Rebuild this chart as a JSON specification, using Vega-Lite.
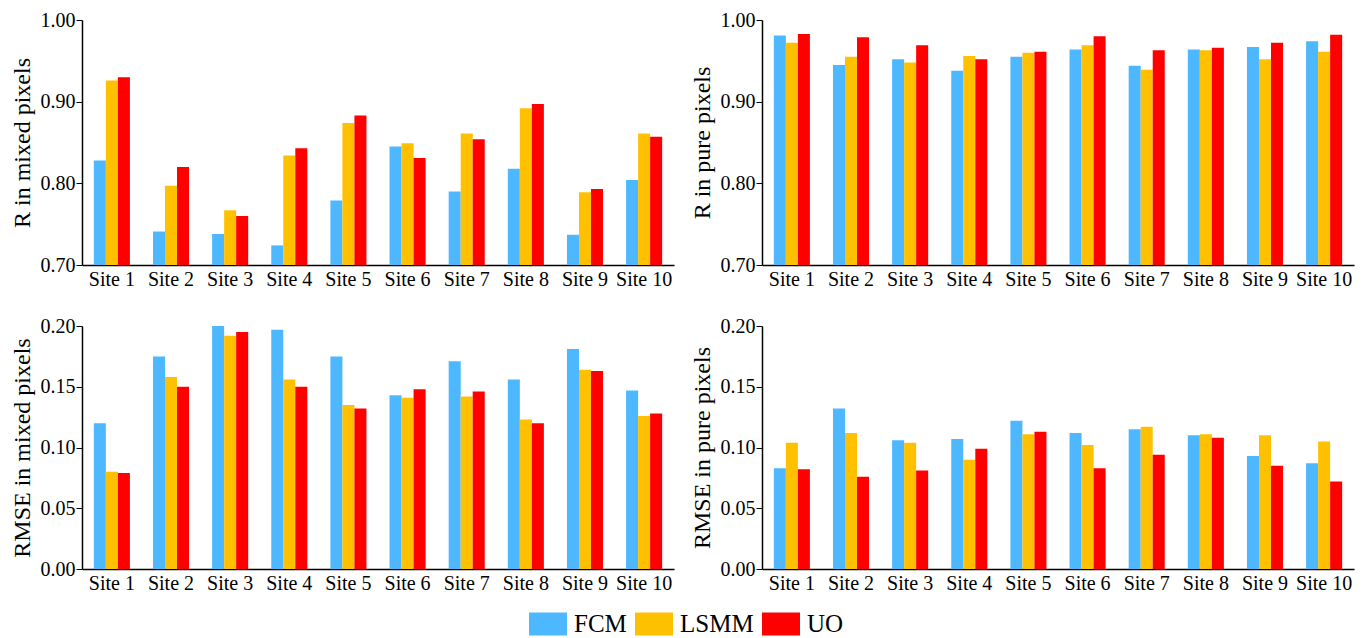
{
  "$schema": "https://vega.github.io/schema/vega-lite/v6.json",
  "padding": {"left": 10, "top": 10, "right": 10, "bottom": 2},
  "datasets": {
    "vals": [
      {"metric": "R_mixed", "site": "Site 1", "method": "FCM", "value": 0.828},
      {"metric": "R_mixed", "site": "Site 1", "method": "LSMM", "value": 0.926},
      {"metric": "R_mixed", "site": "Site 1", "method": "UO", "value": 0.930},
      {"metric": "R_mixed", "site": "Site 2", "method": "FCM", "value": 0.741},
      {"metric": "R_mixed", "site": "Site 2", "method": "LSMM", "value": 0.797},
      {"metric": "R_mixed", "site": "Site 2", "method": "UO", "value": 0.820},
      {"metric": "R_mixed", "site": "Site 3", "method": "FCM", "value": 0.738},
      {"metric": "R_mixed", "site": "Site 3", "method": "LSMM", "value": 0.767},
      {"metric": "R_mixed", "site": "Site 3", "method": "UO", "value": 0.760},
      {"metric": "R_mixed", "site": "Site 4", "method": "FCM", "value": 0.724},
      {"metric": "R_mixed", "site": "Site 4", "method": "LSMM", "value": 0.834},
      {"metric": "R_mixed", "site": "Site 4", "method": "UO", "value": 0.843},
      {"metric": "R_mixed", "site": "Site 5", "method": "FCM", "value": 0.779},
      {"metric": "R_mixed", "site": "Site 5", "method": "LSMM", "value": 0.874},
      {"metric": "R_mixed", "site": "Site 5", "method": "UO", "value": 0.883},
      {"metric": "R_mixed", "site": "Site 6", "method": "FCM", "value": 0.845},
      {"metric": "R_mixed", "site": "Site 6", "method": "LSMM", "value": 0.849},
      {"metric": "R_mixed", "site": "Site 6", "method": "UO", "value": 0.831},
      {"metric": "R_mixed", "site": "Site 7", "method": "FCM", "value": 0.790},
      {"metric": "R_mixed", "site": "Site 7", "method": "LSMM", "value": 0.861},
      {"metric": "R_mixed", "site": "Site 7", "method": "UO", "value": 0.854},
      {"metric": "R_mixed", "site": "Site 8", "method": "FCM", "value": 0.818},
      {"metric": "R_mixed", "site": "Site 8", "method": "LSMM", "value": 0.892},
      {"metric": "R_mixed", "site": "Site 8", "method": "UO", "value": 0.897},
      {"metric": "R_mixed", "site": "Site 9", "method": "FCM", "value": 0.737},
      {"metric": "R_mixed", "site": "Site 9", "method": "LSMM", "value": 0.789},
      {"metric": "R_mixed", "site": "Site 9", "method": "UO", "value": 0.793},
      {"metric": "R_mixed", "site": "Site 10", "method": "FCM", "value": 0.804},
      {"metric": "R_mixed", "site": "Site 10", "method": "LSMM", "value": 0.861},
      {"metric": "R_mixed", "site": "Site 10", "method": "UO", "value": 0.857},

      {"metric": "R_pure", "site": "Site 1", "method": "FCM", "value": 0.981},
      {"metric": "R_pure", "site": "Site 1", "method": "LSMM", "value": 0.972},
      {"metric": "R_pure", "site": "Site 1", "method": "UO", "value": 0.983},
      {"metric": "R_pure", "site": "Site 2", "method": "FCM", "value": 0.945},
      {"metric": "R_pure", "site": "Site 2", "method": "LSMM", "value": 0.955},
      {"metric": "R_pure", "site": "Site 2", "method": "UO", "value": 0.979},
      {"metric": "R_pure", "site": "Site 3", "method": "FCM", "value": 0.952},
      {"metric": "R_pure", "site": "Site 3", "method": "LSMM", "value": 0.948},
      {"metric": "R_pure", "site": "Site 3", "method": "UO", "value": 0.969},
      {"metric": "R_pure", "site": "Site 4", "method": "FCM", "value": 0.938},
      {"metric": "R_pure", "site": "Site 4", "method": "LSMM", "value": 0.956},
      {"metric": "R_pure", "site": "Site 4", "method": "UO", "value": 0.952},
      {"metric": "R_pure", "site": "Site 5", "method": "FCM", "value": 0.955},
      {"metric": "R_pure", "site": "Site 5", "method": "LSMM", "value": 0.960},
      {"metric": "R_pure", "site": "Site 5", "method": "UO", "value": 0.961},
      {"metric": "R_pure", "site": "Site 6", "method": "FCM", "value": 0.964},
      {"metric": "R_pure", "site": "Site 6", "method": "LSMM", "value": 0.969},
      {"metric": "R_pure", "site": "Site 6", "method": "UO", "value": 0.980},
      {"metric": "R_pure", "site": "Site 7", "method": "FCM", "value": 0.944},
      {"metric": "R_pure", "site": "Site 7", "method": "LSMM", "value": 0.939},
      {"metric": "R_pure", "site": "Site 7", "method": "UO", "value": 0.963},
      {"metric": "R_pure", "site": "Site 8", "method": "FCM", "value": 0.964},
      {"metric": "R_pure", "site": "Site 8", "method": "LSMM", "value": 0.963},
      {"metric": "R_pure", "site": "Site 8", "method": "UO", "value": 0.966},
      {"metric": "R_pure", "site": "Site 9", "method": "FCM", "value": 0.967},
      {"metric": "R_pure", "site": "Site 9", "method": "LSMM", "value": 0.952},
      {"metric": "R_pure", "site": "Site 9", "method": "UO", "value": 0.972},
      {"metric": "R_pure", "site": "Site 10", "method": "FCM", "value": 0.974},
      {"metric": "R_pure", "site": "Site 10", "method": "LSMM", "value": 0.961},
      {"metric": "R_pure", "site": "Site 10", "method": "UO", "value": 0.982},

      {"metric": "RMSE_mixed", "site": "Site 1", "method": "FCM", "value": 0.120},
      {"metric": "RMSE_mixed", "site": "Site 1", "method": "LSMM", "value": 0.080},
      {"metric": "RMSE_mixed", "site": "Site 1", "method": "UO", "value": 0.079},
      {"metric": "RMSE_mixed", "site": "Site 2", "method": "FCM", "value": 0.175},
      {"metric": "RMSE_mixed", "site": "Site 2", "method": "LSMM", "value": 0.158},
      {"metric": "RMSE_mixed", "site": "Site 2", "method": "UO", "value": 0.150},
      {"metric": "RMSE_mixed", "site": "Site 3", "method": "FCM", "value": 0.200},
      {"metric": "RMSE_mixed", "site": "Site 3", "method": "LSMM", "value": 0.192},
      {"metric": "RMSE_mixed", "site": "Site 3", "method": "UO", "value": 0.195},
      {"metric": "RMSE_mixed", "site": "Site 4", "method": "FCM", "value": 0.197},
      {"metric": "RMSE_mixed", "site": "Site 4", "method": "LSMM", "value": 0.156},
      {"metric": "RMSE_mixed", "site": "Site 4", "method": "UO", "value": 0.150},
      {"metric": "RMSE_mixed", "site": "Site 5", "method": "FCM", "value": 0.175},
      {"metric": "RMSE_mixed", "site": "Site 5", "method": "LSMM", "value": 0.135},
      {"metric": "RMSE_mixed", "site": "Site 5", "method": "UO", "value": 0.132},
      {"metric": "RMSE_mixed", "site": "Site 6", "method": "FCM", "value": 0.143},
      {"metric": "RMSE_mixed", "site": "Site 6", "method": "LSMM", "value": 0.141},
      {"metric": "RMSE_mixed", "site": "Site 6", "method": "UO", "value": 0.148},
      {"metric": "RMSE_mixed", "site": "Site 7", "method": "FCM", "value": 0.171},
      {"metric": "RMSE_mixed", "site": "Site 7", "method": "LSMM", "value": 0.142},
      {"metric": "RMSE_mixed", "site": "Site 7", "method": "UO", "value": 0.146},
      {"metric": "RMSE_mixed", "site": "Site 8", "method": "FCM", "value": 0.156},
      {"metric": "RMSE_mixed", "site": "Site 8", "method": "LSMM", "value": 0.123},
      {"metric": "RMSE_mixed", "site": "Site 8", "method": "UO", "value": 0.120},
      {"metric": "RMSE_mixed", "site": "Site 9", "method": "FCM", "value": 0.181},
      {"metric": "RMSE_mixed", "site": "Site 9", "method": "LSMM", "value": 0.164},
      {"metric": "RMSE_mixed", "site": "Site 9", "method": "UO", "value": 0.163},
      {"metric": "RMSE_mixed", "site": "Site 10", "method": "FCM", "value": 0.147},
      {"metric": "RMSE_mixed", "site": "Site 10", "method": "LSMM", "value": 0.126},
      {"metric": "RMSE_mixed", "site": "Site 10", "method": "UO", "value": 0.128},

      {"metric": "RMSE_pure", "site": "Site 1", "method": "FCM", "value": 0.083},
      {"metric": "RMSE_pure", "site": "Site 1", "method": "LSMM", "value": 0.104},
      {"metric": "RMSE_pure", "site": "Site 1", "method": "UO", "value": 0.082},
      {"metric": "RMSE_pure", "site": "Site 2", "method": "FCM", "value": 0.132},
      {"metric": "RMSE_pure", "site": "Site 2", "method": "LSMM", "value": 0.112},
      {"metric": "RMSE_pure", "site": "Site 2", "method": "UO", "value": 0.076},
      {"metric": "RMSE_pure", "site": "Site 3", "method": "FCM", "value": 0.106},
      {"metric": "RMSE_pure", "site": "Site 3", "method": "LSMM", "value": 0.104},
      {"metric": "RMSE_pure", "site": "Site 3", "method": "UO", "value": 0.081},
      {"metric": "RMSE_pure", "site": "Site 4", "method": "FCM", "value": 0.107},
      {"metric": "RMSE_pure", "site": "Site 4", "method": "LSMM", "value": 0.090},
      {"metric": "RMSE_pure", "site": "Site 4", "method": "UO", "value": 0.099},
      {"metric": "RMSE_pure", "site": "Site 5", "method": "FCM", "value": 0.122},
      {"metric": "RMSE_pure", "site": "Site 5", "method": "LSMM", "value": 0.111},
      {"metric": "RMSE_pure", "site": "Site 5", "method": "UO", "value": 0.113},
      {"metric": "RMSE_pure", "site": "Site 6", "method": "FCM", "value": 0.112},
      {"metric": "RMSE_pure", "site": "Site 6", "method": "LSMM", "value": 0.102},
      {"metric": "RMSE_pure", "site": "Site 6", "method": "UO", "value": 0.083},
      {"metric": "RMSE_pure", "site": "Site 7", "method": "FCM", "value": 0.115},
      {"metric": "RMSE_pure", "site": "Site 7", "method": "LSMM", "value": 0.117},
      {"metric": "RMSE_pure", "site": "Site 7", "method": "UO", "value": 0.094},
      {"metric": "RMSE_pure", "site": "Site 8", "method": "FCM", "value": 0.110},
      {"metric": "RMSE_pure", "site": "Site 8", "method": "LSMM", "value": 0.111},
      {"metric": "RMSE_pure", "site": "Site 8", "method": "UO", "value": 0.108},
      {"metric": "RMSE_pure", "site": "Site 9", "method": "FCM", "value": 0.093},
      {"metric": "RMSE_pure", "site": "Site 9", "method": "LSMM", "value": 0.110},
      {"metric": "RMSE_pure", "site": "Site 9", "method": "UO", "value": 0.085},
      {"metric": "RMSE_pure", "site": "Site 10", "method": "FCM", "value": 0.087},
      {"metric": "RMSE_pure", "site": "Site 10", "method": "LSMM", "value": 0.105},
      {"metric": "RMSE_pure", "site": "Site 10", "method": "UO", "value": 0.072}
    ]
  },
  "data": {"name": "vals"},
  "columns": 2,
  "spacing": {"column": 16, "row": 27},
  "resolve": {"scale": {"y": "independent", "x": "independent", "color": "shared"}, "axis": {"x": "independent", "y": "independent"}, "legend": {"color": "shared"}},
  "concat": [
    {
      "width": 592, "height": 245,
      "transform": [{"filter": "datum.metric === 'R_mixed'"}],
      "mark": {"type": "bar", "clip": true},
      "encoding": {
        "x": {"field": "site", "type": "nominal", "sort": ["Site 1","Site 2","Site 3","Site 4","Site 5","Site 6","Site 7","Site 8","Site 9","Site 10"], "scale": {"paddingInner": 0.39, "paddingOuter": 0.2}, "axis": {"title": null, "labelFont": "Liberation Serif"}},
        "xOffset": {"field": "method", "type": "nominal", "sort": ["FCM","LSMM","UO"], "scale": {"paddingInner": 0, "paddingOuter": 0}},
        "y": {"field": "value", "type": "quantitative", "scale": {"domain": [0.7, 1.0], "zero": false, "nice": false, "clamp": true}, "axis": {"title": "R in mixed pixels", "values": [0.7, 0.8, 0.9, 1.0], "format": ".2f", "labelFont": "Liberation Serif"}},
        "color": {"field": "method", "type": "nominal", "sort": ["FCM","LSMM","UO"], "scale": {"domain": ["FCM","LSMM","UO"], "range": ["#4DB8FF","#FFC000","#FF0000"]}, "legend": {"orient": "none", "direction": "horizontal", "legendX": 447, "legendY": 585, "title": null, "labelFont": "Liberation Serif"}}
      }
    },
    {
      "width": 592, "height": 245,
      "transform": [{"filter": "datum.metric === 'R_pure'"}],
      "mark": {"type": "bar", "clip": true},
      "encoding": {
        "x": {"field": "site", "type": "nominal", "sort": ["Site 1","Site 2","Site 3","Site 4","Site 5","Site 6","Site 7","Site 8","Site 9","Site 10"], "scale": {"paddingInner": 0.39, "paddingOuter": 0.2}, "axis": {"title": null, "labelFont": "Liberation Serif"}},
        "xOffset": {"field": "method", "type": "nominal", "sort": ["FCM","LSMM","UO"], "scale": {"paddingInner": 0, "paddingOuter": 0}},
        "y": {"field": "value", "type": "quantitative", "scale": {"domain": [0.7, 1.0], "zero": false, "nice": false, "clamp": true}, "axis": {"title": "R in pure pixels", "values": [0.7, 0.8, 0.9, 1.0], "format": ".2f", "labelFont": "Liberation Serif"}},
        "color": {"field": "method", "type": "nominal", "sort": ["FCM","LSMM","UO"]}
      }
    },
    {
      "width": 592, "height": 243,
      "transform": [{"filter": "datum.metric === 'RMSE_mixed'"}],
      "mark": {"type": "bar", "clip": true},
      "encoding": {
        "x": {"field": "site", "type": "nominal", "sort": ["Site 1","Site 2","Site 3","Site 4","Site 5","Site 6","Site 7","Site 8","Site 9","Site 10"], "scale": {"paddingInner": 0.39, "paddingOuter": 0.2}, "axis": {"title": null, "labelFont": "Liberation Serif"}},
        "xOffset": {"field": "method", "type": "nominal", "sort": ["FCM","LSMM","UO"], "scale": {"paddingInner": 0, "paddingOuter": 0}},
        "y": {"field": "value", "type": "quantitative", "scale": {"domain": [0, 0.2], "nice": false}, "axis": {"title": "RMSE in mixed pixels", "values": [0, 0.05, 0.1, 0.15, 0.2], "format": ".2f", "labelFont": "Liberation Serif"}},
        "color": {"field": "method", "type": "nominal", "sort": ["FCM","LSMM","UO"]}
      }
    },
    {
      "width": 592, "height": 243,
      "transform": [{"filter": "datum.metric === 'RMSE_pure'"}],
      "mark": {"type": "bar", "clip": true},
      "encoding": {
        "x": {"field": "site", "type": "nominal", "sort": ["Site 1","Site 2","Site 3","Site 4","Site 5","Site 6","Site 7","Site 8","Site 9","Site 10"], "scale": {"paddingInner": 0.39, "paddingOuter": 0.2}, "axis": {"title": null, "labelFont": "Liberation Serif"}},
        "xOffset": {"field": "method", "type": "nominal", "sort": ["FCM","LSMM","UO"], "scale": {"paddingInner": 0, "paddingOuter": 0}},
        "y": {"field": "value", "type": "quantitative", "scale": {"domain": [0, 0.2], "nice": false}, "axis": {"title": "RMSE in pure pixels", "values": [0, 0.05, 0.1, 0.15, 0.2], "format": ".2f", "labelFont": "Liberation Serif"}},
        "color": {"field": "method", "type": "nominal", "sort": ["FCM","LSMM","UO"]}
      }
    }
  ],
  "config": {
    "font": "Liberation Serif",
    "view": {"stroke": null},
    "style": {"guide-label": {"font": "Liberation Serif"}, "guide-title": {"font": "Liberation Serif"}},
    "axis": {"labelFont": "Liberation Serif", "titleFont": "Liberation Serif", "labelFontSize": 20, "titleFontSize": 24, "titleFontWeight": "normal", "labelColor": "#000", "titleColor": "#000", "domainColor": "#000", "tickColor": "#000", "grid": false, "domainWidth": 1.5, "tickWidth": 1},
    "axisX": {"ticks": false, "labelAngle": 0, "labelPadding": 4},
    "axisY": {"tickSize": 6, "labelPadding": 1, "titlePadding": 6},
    "legend": {"symbolType": "M-1,-0.6L1,-0.6L1,0.6L-1,0.6Z", "symbolSize": 1444, "symbolStrokeWidth": 0, "symbolOpacity": 1, "labelFont": "Liberation Serif", "labelFontSize": 25, "labelColor": "#000", "labelOffset": 7, "columnPadding": 8}
  }
}
